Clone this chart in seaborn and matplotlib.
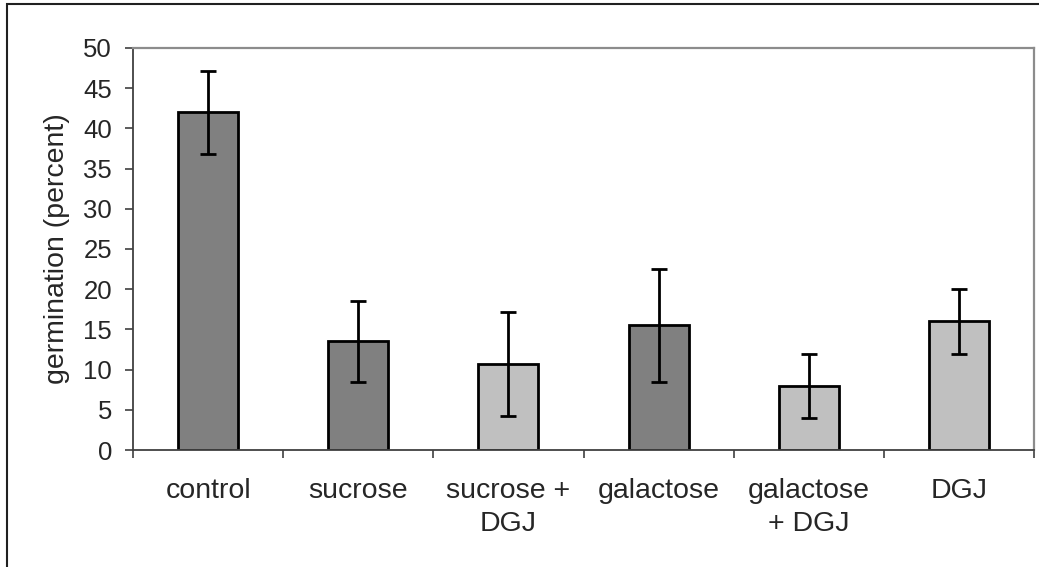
import matplotlib
matplotlib.use("Agg")
import matplotlib.pyplot as plt
import seaborn as sns
import pandas as pd
from matplotlib.patches import Rectangle
from matplotlib.ticker import FixedLocator

# Germination data
categories = ["control", "sucrose", "sucrose +\nDGJ", "galactose", "galactose\n+ DGJ", "DGJ"]
germination = [42.0, 13.5, 10.7, 15.5, 8.0, 16.0]
errors = [5.2, 5.0, 6.5, 7.0, 4.0, 4.0]
bar_colors = ["#808080", "#808080", "#c0c0c0", "#808080", "#c0c0c0", "#c0c0c0"]
y_ticks = list(range(0, 51, 5))

sns.set_style("white")
plt.rcParams["font.family"] = ["Liberation Sans", "DejaVu Sans"]

df = pd.DataFrame({"treatment": categories, "germination": germination})

fig = plt.figure(figsize=(10.39, 5.67), dpi=100)
ax = fig.add_axes([133 / 1039, 1 - 450 / 567, (1034 - 133) / 1039, (450 - 48) / 567])

sns.barplot(data=df, x="treatment", y="germination", hue="treatment",
            palette=dict(zip(categories, bar_colors)), width=0.4,
            edgecolor="black", linewidth=2, legend=False, ax=ax, errorbar=None)
ax.errorbar(range(len(categories)), germination, yerr=errors, fmt="none",
            ecolor="black", elinewidth=2, capsize=5.5, capthick=2)

ax.set_xlim(-0.5, len(categories) - 0.5)
ax.set_ylim(0, 50)
ax.set_yticks(y_ticks)
ax.set_xlabel("")
ax.set_ylabel("germination (percent)", fontsize=20.5, labelpad=10)

ax.tick_params(axis="y", which="major", labelsize=18.5, length=6, width=1.2,
               color="#404040", direction="out", pad=9, left=True)
ax.tick_params(axis="x", which="major", labelsize=20.5, length=0, pad=20)
ax.xaxis.set_minor_locator(FixedLocator([i - 0.5 for i in range(len(categories) + 1)]))
ax.tick_params(axis="x", which="minor", length=6, width=1.2, color="#404040",
               direction="out", bottom=True)
for lbl in ax.get_xticklabels():
    lbl.set_multialignment("center")
    lbl.set_linespacing(1.38)

for side in ["left", "bottom"]:
    ax.spines[side].set_color("#404040")
    ax.spines[side].set_linewidth(1.3)
for side in ["top", "right"]:
    ax.spines[side].set_color("#8c8c8c")
    ax.spines[side].set_linewidth(1.6)

# Chart border
fig.patches.append(Rectangle((6.5 / 1039, -0.1), 1.2, 1 - 3.5 / 567 + 0.1,
                             transform=fig.transFigure, fill=False,
                             edgecolor="#202020", linewidth=1.5))

fig.savefig("out.png", dpi=100)
